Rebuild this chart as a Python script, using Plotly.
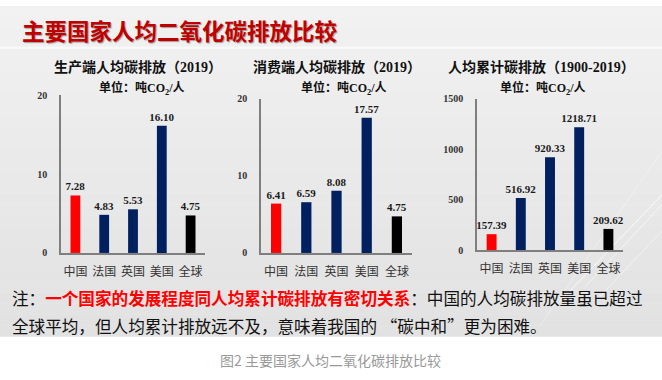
import plotly.graph_objects as go

W, H = 662, 380

# ---------------- data ----------------
categories = ["中国", "法国", "英国", "美国", "全球"]
production_2019 = [7.28, 4.83, 5.53, 16.10, 4.75]
consumption_2019 = [6.41, 6.59, 8.08, 17.57, 4.75]
cumulative_1900_2019 = [157.39, 516.92, 920.33, 1218.71, 209.62]

panel_titles = ["生产端人均碳排放（2019）", "消费端人均碳排放（2019）", "人均累计碳排放（1900-2019）"]
unit_label = "单位：吨CO<sub>2</sub>/人"
y_ticks = [[0, 10, 20], [0, 10, 20], [0, 500, 1000, 1500]]
y_ranges = [[0, 20], [0, 20], [0, 1500]]
bar_colors = ["#ff0000", "#002060", "#002060", "#002060", "#000000"]

main_title = "主要国家人均二氧化碳排放比较"
note_line1 = ("注：<span style='color:#ff0000'><b>一个国家的发展程度同人均累计碳排放有密切关系</b></span>"
              "：中国的人均碳排放量虽已超过")
note_line2 = "全球平均，但人均累计排放远不及，意味着我国的 “碳中和”更为困难。"
caption = "图2 主要国家人均二氧化碳排放比较"

series = [production_2019, consumption_2019, cumulative_1900_2019]

# ---------------- layout helpers (pixel -> paper) ----------------
def X(px):
    return px / W

def Y(py):
    return 1 - py / H

# panel geometry in pixels: x0, x1, y_bottom, y_top, title center, unit center
panels = [
    dict(x0=61, x1=205, yb=255, yt=92, tc=138, uc=142),
    dict(x0=261, x1=412, yb=255, yt=96, tc=337, uc=344),
    dict(x0=477, x1=623, yb=252, yt=96, tc=541, uc=543),
]

SERIF = "Liberation Serif, Noto Sans CJK SC"
SANS = "Noto Sans CJK SC"

fig = go.Figure()
shapes = []
annotations = []

# background gradient bands (slide background)
n_bands = 30
bg_bottom = 341
for i in range(n_bands):
    t = i / (n_bands - 1)
    c = int(242 - 16 * t)
    shapes.append(dict(type="rect", xref="paper", yref="paper",
                       x0=0, x1=1, y0=Y(bg_bottom * (i + 1) / n_bands + 0.5),
                       y1=Y(bg_bottom * i / n_bands),
                       fillcolor=f"rgb({c},{c},{c})", line=dict(width=0), layer="below"))
# separator under title
shapes.append(dict(type="line", xref="paper", yref="paper", x0=0, x1=1, y0=Y(43), y1=Y(43),
                   line=dict(color="#fafafa", width=2), layer="below"))
# decorative diagonal lines
for (xa, ya, xb, yb, op) in [(560, 305, 662, 195, 0.8), (585, 290, 662, 205, 0.6),
                             (600, 300, 662, 232, 0.5), (540, 330, 662, 150, 0.35)]:
    shapes.append(dict(type="line", xref="paper", yref="paper", x0=X(xa), y0=Y(ya), x1=X(xb), y1=Y(yb),
                       line=dict(color=f"rgba(255,255,255,{op})", width=1), layer="below"))

for i, (p, vals) in enumerate(zip(panels, series)):
    sfx = "" if i == 0 else str(i + 1)
    fig.add_trace(go.Bar(
        x=categories, y=vals, xaxis="x" + sfx, yaxis="y" + sfx,
        marker=dict(color=bar_colors, line=dict(width=0)),
        width=0.34,
        texttemplate="%{y:.2f}", textposition="outside", constraintext="none",
        textfont=dict(family=SERIF, size=11, color="#1a1a1a", weight="bold"),
        cliponaxis=False, showlegend=False, hoverinfo="skip",
    ))
    fig.layout["xaxis" + sfx] = dict(
        domain=[X(p["x0"]), X(p["x1"])], anchor="y" + sfx,
        range=[-0.5, 4.5], showline=True, linecolor="#7f7f7f", linewidth=1.5,
        showgrid=False, zeroline=False, ticks="outside", ticklen=7, tickcolor="rgba(0,0,0,0)",
        tickfont=dict(family=SANS, size=12, color="#333333"), fixedrange=True,
    )
    fig.layout["yaxis" + sfx] = dict(
        domain=[Y(p["yb"]), Y(p["yt"])], anchor="x" + sfx,
        range=y_ranges[i], tickvals=y_ticks[i], showline=True, linecolor="#7f7f7f", linewidth=1.5,
        showgrid=False, zeroline=False, ticks="outside", ticklen=10, tickcolor="rgba(0,0,0,0)",
        tickfont=dict(family=SERIF, size=10, color="#333333", weight="bold"), fixedrange=True,
    )
    annotations.append(dict(text=panel_titles[i], xref="paper", yref="paper", x=X(p["tc"]), y=Y(63),
                            showarrow=False, xanchor="center", yanchor="middle",
                            font=dict(family=SERIF, size=14, color="#111111", weight="bold")))
    annotations.append(dict(text=unit_label, xref="paper", yref="paper", x=X(p["uc"]), y=Y(85),
                            showarrow=False, xanchor="center", yanchor="middle",
                            font=dict(family=SERIF, size=12, color="#111111", weight="bold")))

# main title
annotations.append(dict(text=main_title, xref="paper", yref="paper", x=X(20), y=Y(25),
                        showarrow=False, xanchor="left", yanchor="middle",
                        font=dict(family=SANS, size=22.5, color="#c00000", weight="bold",
                                  shadow="1px 1px 1px rgba(0,0,0,0.35)")))
# note lines
annotations.append(dict(text=note_line1, xref="paper", yref="paper", x=X(10), y=Y(302),
                        showarrow=False, xanchor="left", yanchor="middle",
                        font=dict(family=SANS, size=16.6, color="#111111")))
annotations.append(dict(text=note_line2, xref="paper", yref="paper", x=X(10), y=Y(330),
                        showarrow=False, xanchor="left", yanchor="middle",
                        font=dict(family=SANS, size=16.6, color="#111111")))
# caption
annotations.append(dict(text=caption, xref="paper", yref="paper", x=X(330), y=Y(366),
                        showarrow=False, xanchor="center", yanchor="middle",
                        font=dict(family=SANS, size=14, color="#999999")))

fig.update_layout(
    width=W, height=H, margin=dict(l=0, r=0, t=0, b=0),
    paper_bgcolor="#ffffff", plot_bgcolor="rgba(0,0,0,0)",
    shapes=shapes, annotations=annotations, bargap=0.66,
)

fig.write_html("out.html", config=dict(displayModeBar=False),
               post_script="document.body.style.margin='0';document.body.style.overflow='hidden';")
